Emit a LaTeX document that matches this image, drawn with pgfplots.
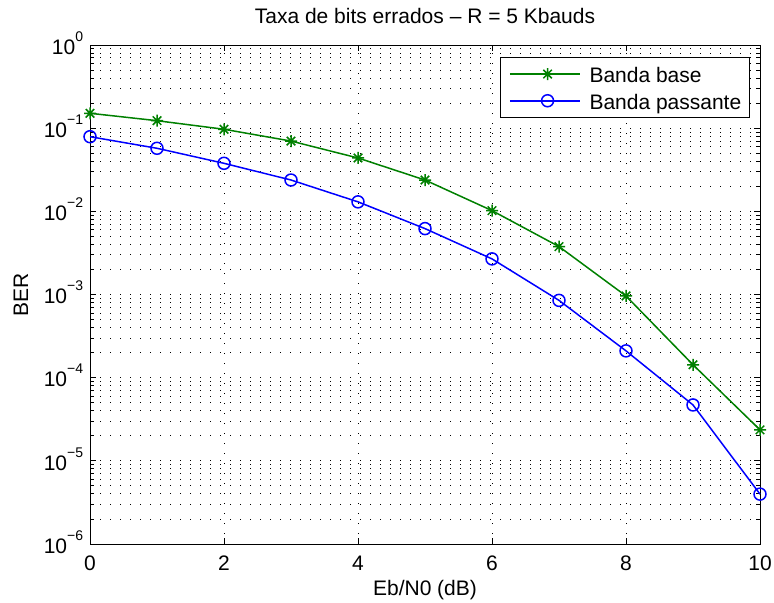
\documentclass[border=0pt]{standalone}
\usepackage{fontspec}
\setmainfont{Liberation Sans}
\usepackage{pgfplots}
\pgfplotsset{compat=1.18}
\definecolor{mgreen}{rgb}{0,0.5,0}
\pgfdeclareplotmark{mstar}{%
 \pgfpathmoveto{\pgfqpoint{-\pgfplotmarksize}{0pt}}\pgfpathlineto{\pgfqpoint{\pgfplotmarksize}{0pt}}%
 \pgfpathmoveto{\pgfqpoint{0pt}{-\pgfplotmarksize}}\pgfpathlineto{\pgfqpoint{0pt}{\pgfplotmarksize}}%
 \pgfpathmoveto{\pgfqpoint{-.7071\pgfplotmarksize}{-.7071\pgfplotmarksize}}\pgfpathlineto{\pgfqpoint{.7071\pgfplotmarksize}{.7071\pgfplotmarksize}}%
 \pgfpathmoveto{\pgfqpoint{-.7071\pgfplotmarksize}{.7071\pgfplotmarksize}}\pgfpathlineto{\pgfqpoint{.7071\pgfplotmarksize}{-.7071\pgfplotmarksize}}%
 \pgfusepathqstroke}
\newcommand\ex[1]{10\raisebox{13bp}{\fontsize{14bp}{14bp}\selectfont −#1}}
\begin{document}
\fontsize{21bp}{25bp}\selectfont
\begin{tikzpicture}
\useasboundingbox (0,0) rectangle (774bp,603bp);
\begin{axis}[
  at={(90bp,59bp)}, anchor=south west,
  scale only axis, width=670bp, height=499bp,
  xmin=0, xmax=10, ymin=1e-6, ymax=1,
  ymode=log, clip=false,
  axis line style={line width=0.9bp, black},
  tick align=inside, tick pos=both,
  every tick/.style={black, line width=0.9bp},
  major tick length=6.5bp, minor tick length=4bp,
  xtick={0,2,4,6,8,10},
  /pgf/number format/assume math mode=true,
  xticklabel style={anchor=base, yshift=-26.7bp, inner sep=0pt},
  ytick={1e-6,1e-5,1e-4,1e-3,1e-2,1e-1,1},
  yticklabels={\ex{6},\ex{5},\ex{4},\ex{3},\ex{2},\ex{1},10\raisebox{13bp}{\fontsize{14bp}{14bp}\selectfont 0}},
  minor ytick={2e-6,3e-6,4e-6,5e-6,6e-6,7e-6,8e-6,9e-6,
               2e-5,3e-5,4e-5,5e-5,6e-5,7e-5,8e-5,9e-5,
               2e-4,3e-4,4e-4,5e-4,6e-4,7e-4,8e-4,9e-4,
               2e-3,3e-3,4e-3,5e-3,6e-3,7e-3,8e-3,9e-3,
               2e-2,3e-2,4e-2,5e-2,6e-2,7e-2,8e-2,9e-2,
               0.2,0.3,0.4,0.5,0.6,0.7,0.8,0.9},
  yticklabel style={anchor=base east, xshift=-6.7bp, yshift=-9.3bp, inner sep=0pt},
  grid=both,
  major grid style={black, line width=0.9bp, dash pattern=on 1bp off 9bp},
  minor grid style={black, line width=0.9bp, dash pattern=on 1bp off 9bp},
  title={Taxa de bits errados – R = 5 Kbauds},
  title style={at={(axis description cs:0.5,1.0315)}, anchor=base, inner sep=0pt},
  xlabel={Eb/N0 (dB)},
  xlabel style={at={(axis description cs:0.5,-0.103)}, anchor=base, inner sep=0pt},
  ylabel={BER},
  ylabel style={at={(axis description cs:-0.103,0.5)}, anchor=center, inner sep=0pt},
  legend cell align=left,
  legend style={at={(axis description cs:1,1)}, anchor=north east,
    xshift=-10bp, yshift=-12.3bp, draw=black, line width=0.8bp, fill=white,
    inner xsep=8.3bp, inner ysep=4bp, row sep=2bp, column sep=8.4bp,
    nodes={inner sep=0pt, text height=21.2bp, text depth=3.5bp}},
  legend image code/.code={%
    \path (0bp,0bp) -- (5bp,0bp);
    \draw[mark repeat=2,mark phase=2] plot coordinates {(5bp,0bp) (37.8bp,0bp) (70.6bp,0bp)};},
]
\addplot[mgreen, line width=1.5bp, mark=mstar, mark size=6bp, mark options={solid, line width=1.5bp}]
coordinates {(0,0.151)(1,0.123)(2,0.097)(3,0.070)(4,0.0438)(5,0.0238)(6,0.0102)(7,0.00377)(8,9.6e-4)(9,1.43e-4)(10,2.36e-5)};
\addlegendentry{Banda base}
\addplot[blue, line width=1.5bp, mark=o, mark size=6bp, mark options={solid, line width=1.5bp}]
coordinates {(0,0.079)(1,0.0573)(2,0.0378)(3,0.0238)(4,0.0130)(5,0.0062)(6,0.00268)(7,8.5e-4)(8,2.1e-4)(9,4.7e-5)(10,3.98e-6)};
\addlegendentry{Banda passante}
\end{axis}
\end{tikzpicture}
\end{document}
